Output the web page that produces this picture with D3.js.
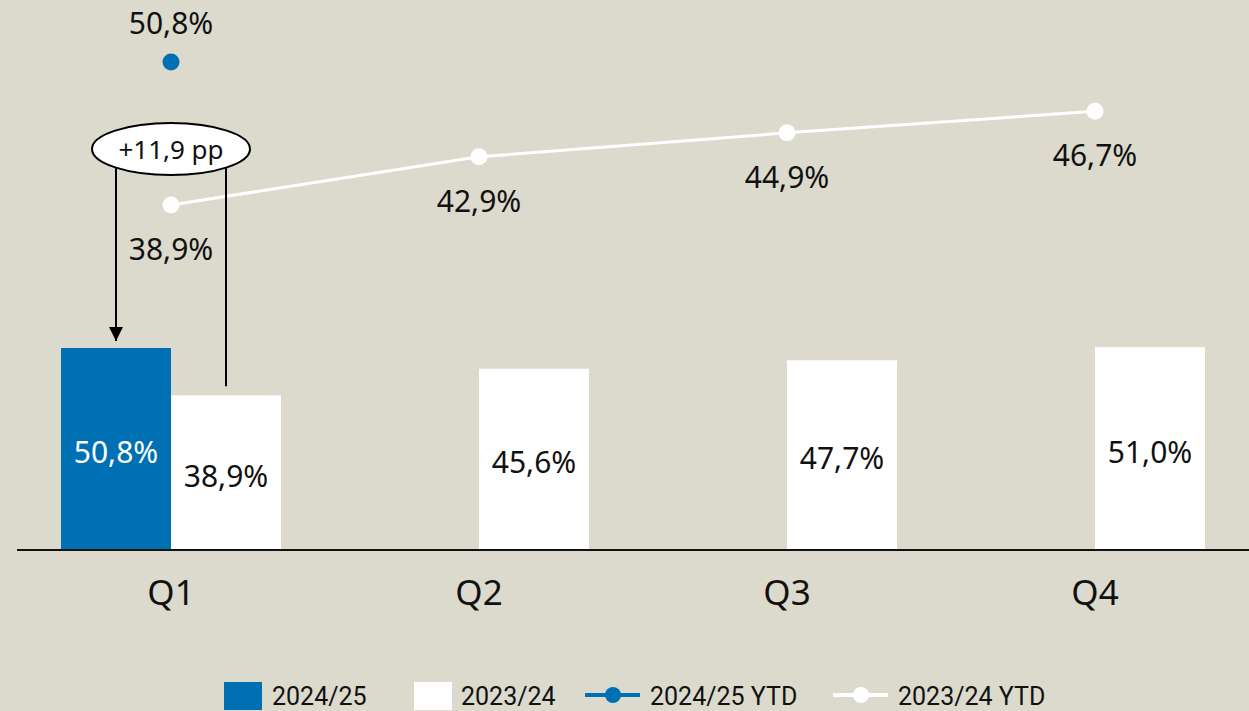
<!DOCTYPE html>
<html>
<head>
<meta charset="utf-8">
<script src="https://cdn.jsdelivr.net/npm/d3@7"></script>
<style>
  body { margin: 0; background: #dcdacd; }
  svg { display: block; font-family: "Noto Sans", "DejaVu Sans", sans-serif; }
</style>
</head>
<body>
<svg id="chart" width="1249" height="711"></svg>
<script>
// data
var quarters = ["Q1", "Q2", "Q3", "Q4"]
var bars2425 = [50.8, null, null, null]
var bars2324 = [38.9, 45.6, 47.7, 51.0]
var ytd2425 = [50.8, null, null, null]
var ytd2324 = [38.9, 42.9, 44.9, 46.7]
var legendLabels = ["2024/25", "2023/24", "2024/25 YTD", "2023/24 YTD"]
var deltaLabel = "+11,9 pp"

var blue = "#0070b4"
var white = "#ffffff"
var fmt = v => d3.format(".1f")(v).replace(".", ",") + "%"

var svg = d3.select("#chart")

// group band: blue half left of center, white half right of center
var x = d3.scalePoint().domain(quarters).range([171, 1095])
var half = 110
var yBar = d3.scaleLinear().domain([0, 50.8]).range([550, 348])
var yLine = d3.scaleLinear().domain([0, 50.8]).range([672, 62])

// bars 2024/25
svg.append("g").selectAll("rect")
    .data(quarters.filter((q, i) => bars2425[i] != null))
    .join("rect")
    .attr("x", q => x(q) - half)
    .attr("y", q => yBar(bars2425[quarters.indexOf(q)]))
    .attr("width", half)
    .attr("height", q => yBar(0) - yBar(bars2425[quarters.indexOf(q)]))
    .attr("fill", blue)

// bars 2023/24
svg.append("g").selectAll("rect")
    .data(quarters)
    .join("rect")
    .attr("x", q => x(q))
    .attr("y", (q, i) => yBar(bars2324[i]))
    .attr("width", half)
    .attr("height", (q, i) => yBar(0) - yBar(bars2324[i]))
    .attr("fill", white)

// bar labels
svg.append("g").selectAll("text")
    .data(quarters.filter((q, i) => bars2425[i] != null))
    .join("text")
    .attr("x", q => x(q) - half / 2)
    .attr("y", q => (yBar(bars2425[quarters.indexOf(q)]) + yBar(0)) / 2 + 6)
    .attr("text-anchor", "middle")
    .attr("dominant-baseline", "middle")
    .attr("font-size", 30)
    .attr("fill", white)
    .text(q => fmt(bars2425[quarters.indexOf(q)]))

svg.append("g").selectAll("text")
    .data(quarters)
    .join("text")
    .attr("x", q => x(q) + half / 2)
    .attr("y", (q, i) => (yBar(bars2324[i]) + yBar(0)) / 2 + 6)
    .attr("text-anchor", "middle")
    .attr("dominant-baseline", "middle")
    .attr("font-size", 30)
    .attr("fill", "#111")
    .text((q, i) => fmt(bars2324[i]))

// baseline
svg.append("line")
    .attr("x1", 17).attr("x2", 1249)
    .attr("y1", yBar(0)).attr("y2", yBar(0))
    .attr("stroke", "#111").attr("stroke-width", 2)

// quarter labels
svg.append("g").selectAll("text")
    .data(quarters)
    .join("text")
    .attr("x", q => x(q))
    .attr("y", 605)
    .attr("text-anchor", "middle")
    .attr("font-size", 35)
    .attr("fill", "#111")
    .text(q => q)

// YTD 2023/24 line
var line = d3.line()
    .x((d, i) => x(quarters[i]))
    .y(d => yLine(d))
svg.append("path")
    .datum(ytd2324)
    .attr("d", line)
    .attr("fill", "none")
    .attr("stroke", white)
    .attr("stroke-width", 3)
svg.append("g").selectAll("circle")
    .data(ytd2324)
    .join("circle")
    .attr("cx", (d, i) => x(quarters[i]))
    .attr("cy", d => yLine(d))
    .attr("r", 8.5)
    .attr("fill", white)
svg.append("g").selectAll("text")
    .data(ytd2324)
    .join("text")
    .attr("x", (d, i) => x(quarters[i]))
    .attr("y", d => yLine(d) + 55)
    .attr("text-anchor", "middle")
    .attr("font-size", 30)
    .attr("fill", "#111")
    .text(d => fmt(d))

// YTD 2024/25 point
var pts2425 = ytd2425.map((d, i) => [quarters[i], d]).filter(p => p[1] != null)
svg.append("g").selectAll("circle")
    .data(pts2425)
    .join("circle")
    .attr("cx", p => x(p[0]))
    .attr("cy", p => yLine(p[1]))
    .attr("r", 8.5)
    .attr("fill", blue)
svg.append("g").selectAll("text")
    .data(pts2425)
    .join("text")
    .attr("x", p => x(p[0]))
    .attr("y", p => yLine(p[1]) - 28)
    .attr("text-anchor", "middle")
    .attr("font-size", 30)
    .attr("fill", "#111")
    .text(p => fmt(p[1]))

// delta annotation
svg.append("defs").append("marker")
    .attr("id", "arrow")
    .attr("viewBox", "0 0 10 10")
    .attr("refX", 10).attr("refY", 5)
    .attr("markerWidth", 7).attr("markerHeight", 8)
    .attr("markerUnits", "strokeWidth")
    .attr("orient", "auto")
    .append("path").attr("d", "M0,0L10,5L0,10Z").attr("fill", "#000")

var q1 = x("Q1")
svg.append("line")
    .attr("x1", q1 - 55).attr("x2", q1 - 55)
    .attr("y1", 168).attr("y2", yBar(bars2425[0]) - 7)
    .attr("stroke", "#000").attr("stroke-width", 2)
    .attr("marker-end", "url(#arrow)")
svg.append("line")
    .attr("x1", q1 + 55).attr("x2", q1 + 55)
    .attr("y1", 168).attr("y2", yBar(bars2324[0]) - 9)
    .attr("stroke", "#000").attr("stroke-width", 2)
svg.append("ellipse")
    .attr("cx", q1).attr("cy", 149)
    .attr("rx", 79).attr("ry", 26)
    .attr("fill", white)
    .attr("stroke", "#000").attr("stroke-width", 2)
svg.append("text")
    .attr("x", q1).attr("y", 152)
    .attr("text-anchor", "middle")
    .attr("dominant-baseline", "middle")
    .attr("font-size", 26)
    .attr("fill", "#111")
    .text(deltaLabel)

// legend
var legend = svg.append("g")
    .attr("font-family", "'Liberation Sans Narrow', 'Roboto', sans-serif")
    .attr("font-size", 25)
var lx = [224, 414, 585, 833]
legend.append("rect").attr("x", lx[0]).attr("y", 682).attr("width", 38).attr("height", 28).attr("fill", blue)
legend.append("rect").attr("x", lx[1]).attr("y", 682).attr("width", 38).attr("height", 28).attr("fill", white)
legend.append("line").attr("x1", lx[2]).attr("x2", lx[2] + 55).attr("y1", 695).attr("y2", 695)
    .attr("stroke", blue).attr("stroke-width", 4)
legend.append("circle").attr("cx", lx[2] + 28).attr("cy", 695).attr("r", 8).attr("fill", blue)
legend.append("line").attr("x1", lx[3]).attr("x2", lx[3] + 55).attr("y1", 695).attr("y2", 695)
    .attr("stroke", white).attr("stroke-width", 4)
legend.append("circle").attr("cx", lx[3] + 28).attr("cy", 695).attr("r", 8).attr("fill", white)
var textX = [272, 461, 650, 898]
legend.selectAll("text.lbl")
    .data(legendLabels)
    .join("text")
    .attr("class", "lbl")
    .attr("x", (d, i) => textX[i])
    .attr("y", 705)
    .attr("fill", "#111")
    .text(d => d)
</script>
</body>
</html>
